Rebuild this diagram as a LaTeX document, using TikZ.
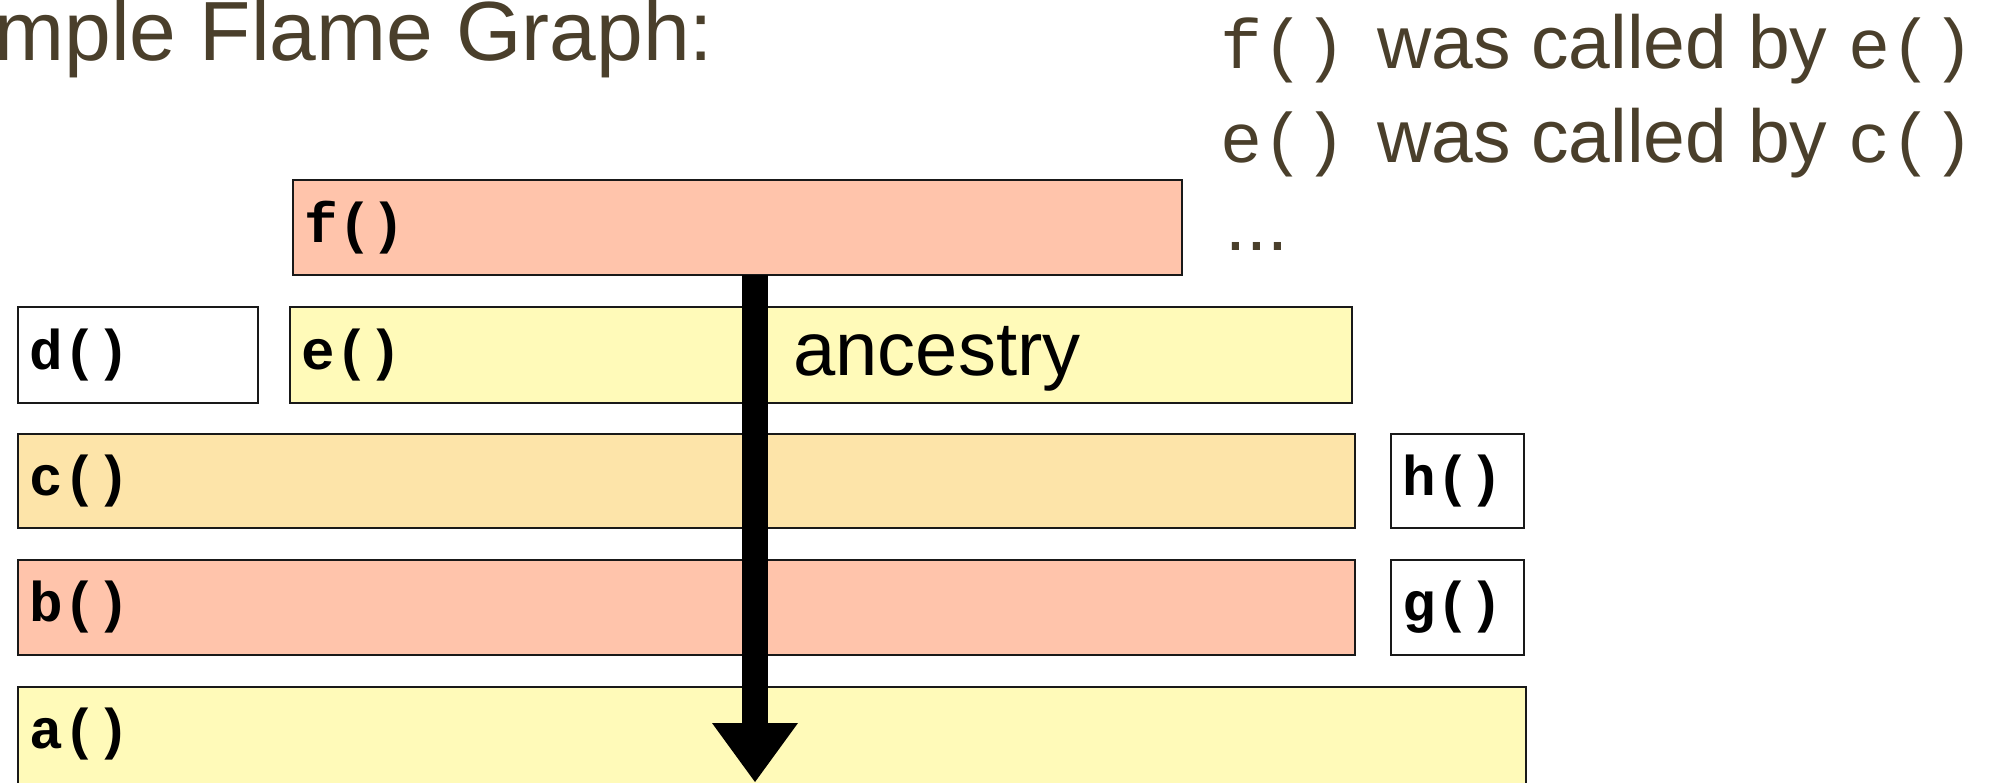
\documentclass[tikz,border=0pt]{standalone}
\usepackage{fontspec}
\setmainfont{Liberation Sans}
\newfontfamily\codefont{Liberation Mono}
\usetikzlibrary{arrows.meta}

\definecolor{frameSalmon}{RGB}{255,196,171}
\definecolor{frameYellow}{RGB}{255,250,185}
\definecolor{frameOrange}{RGB}{253,228,169}
\definecolor{slideText}{RGB}{74,63,43}

% monospace function names inside the caller notes
\newcommand{\fn}[1]{{\codefont\fontsize{35}{35}\selectfont #1}}

\begin{document}
\begin{tikzpicture}[x=0.5pt,y=-0.5pt,
  bar/.style={draw=black!90, line width=0.9pt, anchor=north west,
    inner sep=0pt, outer sep=0pt},
  call/.style={anchor=west, inner xsep=5.5pt, inner ysep=0pt,
    font=\codefont\bfseries\fontsize{28}{28}\selectfont},
  heading/.style={anchor=base west, inner sep=0pt, text=slideText,
    font=\fontsize{42}{42}\selectfont},
  note/.style={anchor=base west, inner sep=0pt, text=slideText,
    font=\fontsize{37.5}{40}\selectfont},
]
\useasboundingbox (0,0) rectangle (2006,782);
\clip (0,0) rectangle (2006,782);

% title and the caller notes
\node[heading] (title) at (-6,60) {mple Flame Graph:};
\node[note] (line1) at (1220,68)
  {\fn{f()}\hspace{5pt} was called by \fn{e()}};
\node[note] (line2) at (1220,162)
  {\fn{e()}\hspace{5pt} was called by \fn{c()}};
\node[note] (more) at (1225,250) {...};

% stack frames
\node[bar, fill=frameSalmon, minimum width=444.5pt, minimum height=47.5pt] (f) at (293,180) {};
\node[bar, fill=white,       minimum width=120pt,   minimum height=48pt]   (d) at (18,307) {};
\node[bar, fill=frameYellow, minimum width=531pt,   minimum height=48pt]   (e) at (290,307) {};
\node[bar, fill=frameOrange, minimum width=668.5pt, minimum height=47pt]   (c) at (18,434) {};
\node[bar, fill=white,       minimum width=66.5pt,  minimum height=47pt]   (h) at (1391,434) {};
\node[bar, fill=frameSalmon, minimum width=668.5pt, minimum height=47.5pt] (b) at (18,560) {};
\node[bar, fill=white,       minimum width=66.5pt,  minimum height=47.5pt] (g) at (1391,560) {};
\node[bar, fill=frameYellow, minimum width=754pt,   minimum height=55pt]   (a) at (18,687) {};

% frame names
\node[call] (fl) at (f.west) {f()};
\node[call] (dl) at (d.west) {d()};
\node[call] (el) at (e.west) {e()};
\node[call] (cl) at (c.west) {c()};
\node[call] (hl) at (h.west) {h()};
\node[call] (bl) at (b.west) {b()};
\node[call] (gl) at (g.west) {g()};
\node[call] (al) at ([yshift=-23.75pt]a.north west) {a()};

% ancestry arrow running down through the stack
\coordinate (tip) at (755,782);
\draw[line width=13pt, -{Triangle[width=43pt,length=29.5pt,line width=0pt]}]
  (f.south -| tip) -- (tip);
\node[anchor=base west, inner sep=0pt, font=\fontsize{38}{38}\selectfont]
  (anc) at (793,375) {ancestry};
\end{tikzpicture}
\end{document}
